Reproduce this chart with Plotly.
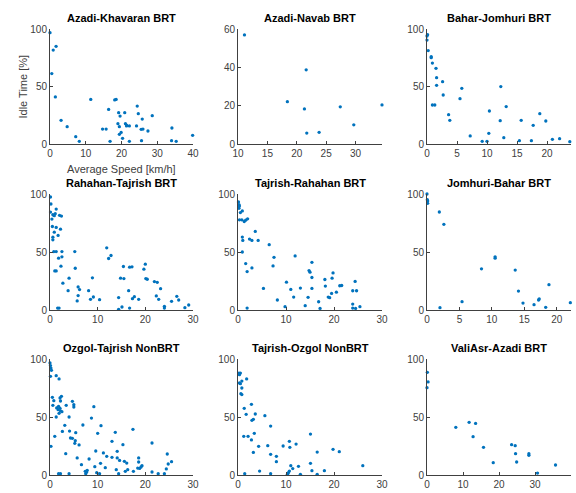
import plotly.graph_objects as go

# ---------------- data ----------------
titles = ["Azadi-Khavaran BRT", "Azadi-Navab BRT", "Bahar-Jomhuri BRT",
          "Rahahan-Tajrish BRT", "Tajrish-Rahahan BRT", "Jomhuri-Bahar BRT",
          "Ozgol-Tajrish NonBRT", "Tajrish-Ozgol NonBRT", "ValiAsr-Azadi BRT"]

azadi_khavaran_speed = [0, 0.9, 1.7, 0.5, 1.5, 3.1, 4.8, 7.2, 8.2, 11.4, 14.7, 15.7, 16.8, 16.4,
                        18.1, 18.5, 19.2, 19.6, 19.0, 19.4, 19.4, 19.9, 20.3, 20.9, 21.1, 21.4,
                        21.4, 22.2, 22.2, 24.2, 24.4, 24.7, 25.8, 25.5, 26.0, 25.6, 27.4, 28.6,
                        34.1, 34.0, 35.3, 39.9]
azadi_khavaran_idle = [96.8, 81.7, 84.9, 61.2, 40.9, 20.6, 15.1, 6.4, 2.3, 38.8, 13.0, 13.0, 2.3,
                       30.1, 38.3, 38.8, 27.2, 24.3, 17.7, 15.1, 8.4, 10.1, 4.9, 27.2, 17.7, 16.5,
                       15.7, 15.7, 2.3, 15.7, 33.0, 26.4, 21.7, 12.8, 13.0, 2.9, 11.3, 24.6,
                       13.9, 2.9, 2.3, 7.5]

azadi_navab_speed = [11.1, 18.4, 21.6, 21.3, 21.7, 23.8, 27.4, 29.7, 34.5]
azadi_navab_idle = [56.9, 22.1, 38.7, 18.3, 5.7, 6.1, 19.4, 10.0, 20.4]

bahar_jomhuri_speed = [0, 0.1, 0, 0.2, 0.7, 0.7, 0.9, 1.5, 1.6, 1.6, 0.9, 1.3, 2.6, 2.7, 3.6, 3.8,
                       5.5, 5.8, 7.2, 9.2, 10.0, 10.4, 10.3, 12.3, 12.2, 12.8, 13.2, 15.4, 15.7,
                       17.4, 17.7, 18.8, 19.8, 20.9, 22.1, 23.8]
bahar_jomhuri_idle = [93.9, 95.1, 90.4, 81.2, 75.9, 75.1, 70.4, 65.8, 57.7, 51.0, 33.9, 33.9, 54.2,
                      42.6, 25.5, 20.6, 39.4, 48.4, 7.0, 2.3, 2.3, 28.7, 9.3, 49.9, 20.3, 5.5, 32.5,
                      2.9, 20.6, 2.9, 16.2, 26.4, 20.0, 4.1, 4.6, 2.0]

rahahan_tajrish_speed = [0.1, 0.2, 0.1, 0.6, 0.4, 0.9, 1.1, 1.3, 2.0, 2.4, 0.5, 1.3, 2.2, 0.9, 0.6,
                         0.6, 1.7, 0.8, 1.3, 2.5, 1.8, 2.5, 1.0, 1.3, 2.3, 2.7, 1.6, 1.9, 4.0, 3.8,
                         5.2, 5.3, 5.9, 6.2, 5.9, 5.7, 8.1, 8.5, 8.9, 9.1, 10.4, 11.9, 12.3, 12.8,
                         14.4, 14.4, 14.8, 15.1, 15.4, 15.5, 16.5, 16.7, 16.7, 17.2, 17.3, 17.7,
                         18.6, 19.7, 20.0, 20.1, 20.4, 21.9, 22.5, 22.3, 22.8, 23.2, 24.0, 24.0,
                         25.5, 26.6, 27.0, 28.3, 29.1]
rahahan_tajrish_idle = [97.4, 91.4, 84.4, 82.1, 78.4, 81.3, 83.0, 87.0, 81.6, 81.0, 72.0, 71.2,
                        69.7, 67.1, 62.8, 60.5, 64.3, 50.4, 50.4, 50.4, 44.7, 45.8, 33.7, 33.7,
                        37.8, 23.1, 1.7, 1.7, 27.4, 16.7, 50.4, 36.0, 19.9, 17.6, 12.4, 7.8, 16.7,
                        9.2, 27.7, 11.2, 8.9, 53.6, 44.4, 47.0, 10.7, 0.6, 27.4, 2.6, 37.5, 27.1,
                        16.7, 1.7, 36.9, 37.2, 9.8, 11.5, 9.2, 35.2, 39.5, 27.1, 26.5, 24.5, 23.9,
                        12.1, 9.2, 18.4, 3.2, 1.7, 7.5, 11.8, 8.6, 2.0, 4.3]

tajrish_rahahan_speed = [0.1, 0.2, 0.3, 0.2, 0.5, 0.9, 0.3, 0.8, 1.3, 1.6, 2.0, 0.9, 1.0, 2.4, 2.9,
                         3.6, 4.2, 0.9, 1.6, 1.9, 2.9, 1.9, 5.3, 6.5, 7.5, 7.3, 8.2, 9.8, 10.1,
                         11.0, 11.6, 11.9, 13.0, 14.0, 14.6, 14.8, 15.0, 15.4, 15.4, 15.4, 16.8,
                         17.1, 18.1, 18.2, 18.8, 19.1, 19.5, 19.6, 19.8, 20.5, 21.2, 21.6, 23.9,
                         23.9, 23.9, 24.5, 24.4, 24.7, 25.4]
tajrish_rahahan_idle = [93.1, 90.9, 89.7, 87.7, 84.0, 85.4, 77.7, 77.7, 76.3, 77.4, 78.6, 62.9,
                        60.0, 61.1, 60.0, 67.7, 60.0, 50.0, 40.0, 33.1, 36.3, 1.7, 18.6, 56.3,
                        45.4, 38.0, 8.6, 2.9, 24.0, 17.7, 11.1, 46.6, 18.9, 3.7, 10.9, 34.0, 32.6,
                        41.1, 28.0, 18.6, 7.1, 1.4, 26.3, 20.6, 11.1, 10.6, 14.3, 27.4, 32.0, 15.4,
                        20.9, 21.1, 16.6, 5.1, 1.7, 1.4, 24.6, 16.6, 2.9]

jomhuri_bahar_speed = [0, 0.05, 0.1, 0.1, 1.9, 2.6, 2.0, 5.4, 8.4, 10.5, 10.5, 13.6, 14.1, 14.8,
                       16.5, 17.2, 17.3, 18.3, 18.8, 22.1]
jomhuri_bahar_idle = [100, 95.1, 94.0, 92.0, 84.5, 73.9, 2.0, 7.2, 35.5, 45.8, 44.7, 34.4, 16.3,
                      6.0, 4.6, 8.6, 9.5, 2.3, 21.8, 6.3]

ozgol_tajrish_speed = [0, 0.1, 0.2, 0.3, 0.1, 1.3, 1.9, 0.5, 0.8, 0.6, 0.2, 1.0, 1.4, 1.8, 2.1, 2.4,
                       2.2, 1.7, 2.1, 1.3, 1.9, 2.2, 2.5, 1.8, 2.2, 2.6, 3.1, 3.4, 3.3, 4.0, 4.0,
                       4.1, 4.7, 5.0, 5.0, 4.3, 4.7, 5.3, 5.2, 5.4, 5.7, 6.1, 6.6, 6.9, 7.4, 7.7,
                       7.8, 7.5, 8.2, 8.7, 9.2, 9.4, 9.6, 9.8, 10.0, 10.4, 10.6, 10.7, 11.2, 11.6,
                       11.9, 13.0, 13.0, 13.7, 13.9, 14.1, 14.1, 14.4, 14.6, 15.3, 15.6, 15.8,
                       16.1, 16.3, 17.4, 17.5, 18.4, 18.6, 18.6, 18.8, 19.1, 19.3, 21.4, 21.4,
                       22.7, 24.0, 24.4, 24.6, 24.8, 25.5]
ozgol_tajrish_idle = [96.6, 94.3, 92.2, 90.2, 85.1, 85.6, 82.8, 67.0, 64.1, 60.1, 24.7, 33.3, 57.8,
                      59.2, 66.4, 67.8, 63.8, 56.3, 57.5, 50.0, 53.2, 55.2, 54.6, 1.1, 1.1, 37.6,
                      42.8, 60.1, 18.4, 1.1, 50.0, 37.9, 63.5, 60.6, 58.6, 31.9, 31.6, 29.6, 27.3,
                      36.5, 14.7, 25.9, 8.9, 43.1, 3.2, 2.6, 4.0, 1.1, 13.8, 49.1, 58.9, 7.2,
                      20.7, 2.0, 35.9, 1.1, 10.1, 42.5, 19.0, 6.3, 16.1, 29.0, 15.2, 36.8, 4.6,
                      20.4, 14.7, 1.1, 12.6, 26.1, 11.8, 3.2, 10.3, 4.6, 39.4, 3.2, 6.0, 14.7,
                      11.2, 5.7, 6.9, 8.0, 27.6, 2.6, 1.1, 1.1, 5.2, 18.1, 9.5, 11.5]

tajrish_ozgol_speed = [0.2, 0.5, 0.3, 0.3, 0.5, 0.8, 0.8, 0.6, 0.8, 1.8, 1.3, 1.7, 1.2, 1.4, 2.1, 2.8,
                       2.8, 2.9, 3.2, 3.2, 3.6, 3.4, 4.3, 4.5, 5.6, 6.2, 6.8, 6.8, 6.8, 8.0, 8.0,
                       9.4, 10.3, 10.5, 10.7, 10.7, 10.8, 11.0, 11.4, 12.1, 12.6, 13.0, 15.1,
                       15.1, 15.4, 16.5, 16.5, 18.0, 19.8, 21.1, 26.0]
tajrish_ozgol_idle = [87.9, 87.9, 86.5, 79.3, 78.7, 81.0, 75.0, 70.1, 69.3, 82.8, 57.5, 52.3, 33.3,
                      1.1, 33.3, 60.9, 30.2, 47.1, 48.0, 19.5, 52.6, 35.9, 24.7, 3.4, 51.1, 25.3,
                      42.2, 17.8, 1.1, 16.1, 11.5, 25.0, 0.6, 2.0, 3.4, 29.0, 23.9, 8.0, 5.5,
                      26.7, 7.5, 0.6, 35.3, 10.1, 3.7, 19.8, 0.6, 3.7, 22.1, 20.1, 8.0]

valiasr_azadi_speed = [0.1, 0.3, 0, 8.0, 11.7, 13.5, 12.8, 15.7, 18.4, 23.5, 24.5, 24.6, 24.9, 28.3,
                       28.3, 30.7, 35.7]
valiasr_azadi_idle = [88.5, 80.2, 75.3, 41.1, 45.4, 44.5, 33.0, 23.9, 10.6, 26.1, 25.3, 18.4, 11.2,
                      18.4, 17.0, 1.7, 8.6]

speeds = [azadi_khavaran_speed, azadi_navab_speed, bahar_jomhuri_speed,
          rahahan_tajrish_speed, tajrish_rahahan_speed, jomhuri_bahar_speed,
          ozgol_tajrish_speed, tajrish_ozgol_speed, valiasr_azadi_speed]
idles = [azadi_khavaran_idle, azadi_navab_idle, bahar_jomhuri_idle,
         rahahan_tajrish_idle, tajrish_rahahan_idle, jomhuri_bahar_idle,
         ozgol_tajrish_idle, tajrish_ozgol_idle, valiasr_azadi_idle]

x_ranges = [[0, 40], [10, 34.5], [0, 24], [0, 30], [0, 30], [0, 22.2], [0, 30], [0, 30], [0, 40]]
x_dticks = [10, 5, 5, 10, 10, 5, 10, 10, 10]
y_ranges = [[0, 100], [0, 60], [0, 100], [0, 100], [0, 100], [0, 100], [0, 100], [0, 100], [0, 100]]
y_dticks = [50, 20, 50, 50, 50, 50, 50, 50, 50]

# ---------------- layout geometry (pixels) ----------------
W, H = 576, 493
col_px = [(50, 193), (238, 382), (427, 571)]
row_px = [(29, 144), (194, 310), (359, 475)]

BLUE = "#0072BD"
AX = "#404040"
FONT = "Liberation Sans, Arial, sans-serif"

fig = go.Figure()
layout = dict(width=W, height=H, margin=dict(l=0, r=0, t=0, b=0, autoexpand=False),
              plot_bgcolor="white", paper_bgcolor="white", showlegend=False,
              font=dict(family=FONT, size=10, color=AX))
annotations = []

for i in range(9):
    r, c = divmod(i, 3)
    n = "" if i == 0 else str(i + 1)
    x0, x1 = col_px[c]
    y0, y1 = row_px[r]
    fig.add_trace(go.Scatter(x=speeds[i], y=idles[i], mode="markers",
                             marker=dict(color=BLUE, size=3.3), cliponaxis=False,
                             xaxis="x" + n, yaxis="y" + n))
    common = dict(showgrid=False, zeroline=False, showline=True, linecolor=AX, linewidth=1,
                  ticks="inside", ticklen=3, tickcolor=AX, tickfont=dict(size=10, color=AX),
                  automargin=False)
    layout["xaxis" + n] = dict(domain=[x0 / W, x1 / W], anchor="y" + n,
                               range=x_ranges[i], dtick=x_dticks[i], tick0=0, **common)
    layout["yaxis" + n] = dict(domain=[1 - y1 / H, 1 - y0 / H], anchor="x" + n,
                               range=y_ranges[i], dtick=y_dticks[i], tick0=0, **common)
    annotations.append(dict(text="<b>" + titles[i] + "</b>", x=(x0 + x1) / 2 / W,
                            y=1 - (y0 - 11) / H, xref="paper", yref="paper",
                            showarrow=False, font=dict(size=11, color="black", family=FONT),
                            xanchor="center", yanchor="middle"))

annotations.append(dict(text="Idle Time [%]", x=22 / W, y=1 - 86.5 / H, xref="paper",
                        yref="paper", showarrow=False, textangle=-90,
                        font=dict(size=11, color=AX, family=FONT),
                        xanchor="center", yanchor="middle"))
annotations.append(dict(text="Average Speed [km/h]", x=121.5 / W, y=1 - 169 / H, xref="paper",
                        yref="paper", showarrow=False,
                        font=dict(size=11, color=AX, family=FONT),
                        xanchor="center", yanchor="middle"))
layout["annotations"] = annotations
fig.update_layout(**layout)
fig.write_html("out.html", config={"displayModeBar": False},
               post_script="document.body.style.margin='0';document.body.style.overflow='hidden';")
